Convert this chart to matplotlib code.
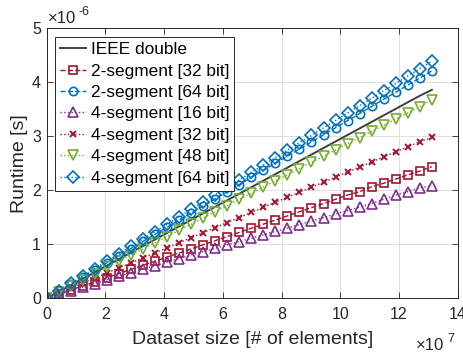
import matplotlib
matplotlib.use("Agg")
import matplotlib.pyplot as plt

plt.rcParams['font.family'] = ['Liberation Sans', 'DejaVu Sans']

# dataset size in units of 1e7 elements
x_vals = [0, 0.41, 0.82, 1.23, 1.64, 2.05, 2.46, 2.87, 3.28, 3.69, 4.10, 4.51,
          4.92, 5.33, 5.74, 6.15, 6.56, 6.97, 7.38, 7.79, 8.20, 8.61, 9.02, 9.43,
          9.84, 10.25, 10.66, 11.07, 11.48, 11.89, 12.30, 12.71, 13.12]

# runtimes in units of 1e-6 s
ieee_double = [0, 0.121, 0.242, 0.363, 0.484, 0.605, 0.726, 0.847, 0.968, 1.089,
               1.210, 1.331, 1.452, 1.573, 1.694, 1.815, 1.936, 2.057, 2.178, 2.299,
               2.420, 2.541, 2.662, 2.783, 2.904, 3.025, 3.146, 3.267, 3.388, 3.509,
               3.630, 3.751, 3.860]
seg2_32 = [0, 0.076, 0.153, 0.229, 0.305, 0.381, 0.458, 0.534, 0.610, 0.687,
           0.763, 0.839, 0.915, 0.992, 1.068, 1.144, 1.221, 1.297, 1.373, 1.449,
           1.526, 1.602, 1.678, 1.755, 1.833, 1.913, 1.974, 2.067, 2.130, 2.209,
           2.283, 2.357, 2.437]
seg2_64 = [0, 0.132, 0.263, 0.395, 0.526, 0.658, 0.790, 0.921, 1.053, 1.184,
           1.316, 1.448, 1.579, 1.711, 1.842, 1.974, 2.106, 2.237, 2.369, 2.500,
           2.632, 2.764, 2.895, 3.027, 3.158, 3.290, 3.422, 3.553, 3.685, 3.816,
           3.948, 4.080, 4.211]
seg4_16 = [0, 0.068, 0.136, 0.204, 0.272, 0.340, 0.405, 0.470, 0.540, 0.605,
           0.670, 0.735, 0.800, 0.862, 0.925, 0.988, 1.050, 1.112, 1.175, 1.238,
           1.300, 1.365, 1.430, 1.495, 1.560, 1.625, 1.690, 1.755, 1.833, 1.913,
           1.974, 2.048, 2.085]
seg4_32 = [0, 0.094, 0.187, 0.281, 0.374, 0.468, 0.561, 0.655, 0.748, 0.842,
           0.935, 1.029, 1.122, 1.216, 1.309, 1.403, 1.496, 1.590, 1.683, 1.777,
           1.870, 1.964, 2.057, 2.151, 2.244, 2.338, 2.431, 2.525, 2.618, 2.712,
           2.805, 2.899, 2.980]
seg4_48 = [0, 0.114, 0.229, 0.343, 0.458, 0.572, 0.686, 0.801, 0.915, 1.030,
           1.144, 1.258, 1.373, 1.487, 1.602, 1.716, 1.830, 1.945, 2.059, 2.174,
           2.288, 2.402, 2.517, 2.631, 2.746, 2.860, 2.974, 3.089, 3.203, 3.318,
           3.432, 3.546, 3.675]
seg4_64 = [0, 0.137, 0.274, 0.412, 0.549, 0.686, 0.823, 0.960, 1.098, 1.235,
           1.372, 1.509, 1.646, 1.783, 1.921, 2.058, 2.195, 2.332, 2.469, 2.607,
           2.744, 2.881, 3.018, 3.155, 3.293, 3.430, 3.567, 3.704, 3.841, 3.979,
           4.116, 4.253, 4.390]

labels = ['IEEE double', '2-segment [32 bit]', '2-segment [64 bit]',
          '4-segment [16 bit]', '4-segment [32 bit]', '4-segment [48 bit]',
          '4-segment [64 bit]']
x_ticks = [0, 2, 4, 6, 8, 10, 12, 14]
y_ticks = [0, 1, 2, 3, 4, 5]

blue = '#0072BD'
red = '#A2142F'
purple = '#7E2F8E'
green = '#77AC30'
gray = '#404040'
ink = '#262626'

fig = plt.figure(figsize=(4.64, 3.52), dpi=100)
ax = fig.add_axes([0.1006, 0.1526, 0.8858, 0.767])

mk = dict(markersize=6, markerfacecolor='none', markeredgewidth=1.2, linewidth=1.0)
tri = dict(markersize=7, markerfacecolor='none', markeredgewidth=1.2, linewidth=1.0)
ax.plot(x_vals, ieee_double, '-', color=gray, linewidth=1.4, label=labels[0])
ax.plot(x_vals, seg2_32, '--', marker='s', color=red, label=labels[1], **mk)
ax.plot(x_vals, seg2_64, '--', marker='o', color=blue, label=labels[2], **mk)
ax.plot(x_vals, seg4_16, ':', marker='^', color=purple, label=labels[3], **tri)
ax.plot(x_vals, seg4_32, ':', marker='x', color=red, label=labels[4],
        markersize=4.5, markeredgewidth=1.4, linewidth=1.0)
ax.plot(x_vals, seg4_48, ':', marker='v', color=green, label=labels[5], **tri)
ax.plot(x_vals, seg4_64, ':', marker='D', color=blue, label=labels[6],
        markersize=6, markerfacecolor='none', markeredgewidth=1.2, linewidth=1.0)

ax.set_xlim(0, 14)
ax.set_ylim(0, 5)
ax.set_xticks(x_ticks)
ax.set_yticks(y_ticks)
ax.set_xticklabels([str(t) for t in x_ticks])
ax.set_yticklabels([str(t) for t in y_ticks])
ax.tick_params(direction='in', length=4.5, width=0.6, colors=ink,
               labelsize=11.5, top=True, right=True, pad=4)
ax.tick_params(axis='x', pad=6)
for s in ax.spines.values():
    s.set_color(ink)
    s.set_linewidth(0.7)
ax.grid(True, color='#dedede', linewidth=0.7)
ax.set_axisbelow(True)

ax.set_xlabel('Dataset size [# of elements]', fontsize=14, color=ink, labelpad=7)
ax.set_ylabel('Runtime [s]', fontsize=14, color=ink, labelpad=3)

# axis multipliers
fig.text(48 / 464, 1 - 23 / 352, '×10', fontsize=12, color=ink, ha='left', va='baseline')
fig.text(79 / 464, 1 - 15 / 352, '-6', fontsize=9, color=ink, ha='left', va='baseline')
fig.text(416 / 464, 1 - 350 / 352, '×10', fontsize=12, color=ink, ha='left', va='baseline')
fig.text(447 / 464, 1 - 342 / 352, '7', fontsize=9, color=ink, ha='left', va='baseline')

leg = ax.legend(loc='upper left', fontsize=12.4, frameon=True, fancybox=False,
                edgecolor=ink, framealpha=1, handlelength=1.5,
                handletextpad=0.25, borderpad=0.3, labelspacing=0.37,
                borderaxespad=0.5)
leg.get_frame().set_linewidth(0.7)

fig.savefig('out.png', dpi=100)
